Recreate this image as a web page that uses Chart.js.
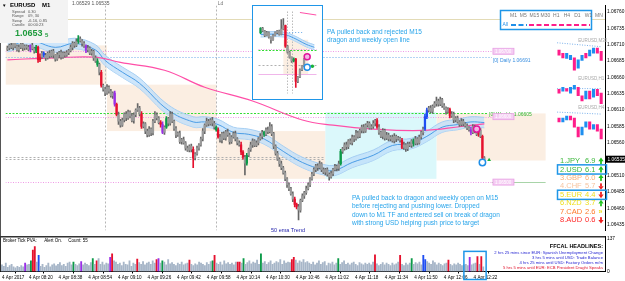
<!DOCTYPE html>
<html>
<head>
<meta charset="utf-8">
<title>EURUSD M1</title>
<script src="https://cdn.jsdelivr.net/npm/chart.js@4.4.1/dist/chart.umd.min.js"></script>
<style>
  html, body { margin: 0; padding: 0; background: #fff; overflow: hidden; }
  #wrap { position: relative; width: 625px; height: 281px; }
  #main { position: absolute; left: 0; top: 0; }
  #vol { position: absolute; left: 0; top: 236px; }
  #insetBox { position: absolute; left: 252px; top: 5px; width: 69px; height: 93px; border: 1.5px solid #1f96e8; background: #fff; }
  #inset { position: absolute; left: 0; top: 0; }
</style>
</head>
<body>
<div id="wrap">
  <canvas id="main" width="625" height="236"></canvas>
  <canvas id="vol" width="625" height="45"></canvas>
  <div id="insetBox"><canvas id="inset" width="69" height="93"></canvas></div>
</div>
<script>
Chart.defaults.font.family = "'Liberation Sans', Arial, sans-serif";

// prices are points above 1.06000 (712 = 1.06712)
const firstOpen = 703;
const closes = [
  705,709,706,712,708,702,706,711,705,708, 706,703,709,704,700,706,687,691,697,694,
  690,697,693,700,694,688,695,698,691,697, 694,698,701,706,712,709,715,719,716,712,
  708,702,705,697,700,690,685,680,668,648, 642,636,645,639,632,636,619,603,593,587,
  595,604,598,607,601,594,603,610,613,604, 585,589,578,572,581,575,593,603,598,591,
  588,576,584,597,590,604,593,582,572,575, 562,565,560,552,549,555,550,537,543,552,
  557,566,578,587,593,589,595,590,584,580, 569,564,574,567,577,572,562,569,574,566,
  560,557,546,538,529,541,550,557,563,556, 560,566,570,576,573,580,577,585,574,555,
  544,535,528,522,514,505,496,490,482,474, 466,462,457,472,479,484,490,496,505,512,
  519,525,522,528,519,515,519,512,508,513, 519,524,521,528,547,551,557,554,563,560,
  569,566,575,570,579,584,578,587,590,583, 585,590,594,584,576,570,579,567,572,566,
  569,563,570,566,567,564,553,557,551,558, 556,563,559,566,560,569,576,581,600,610,
  613,608,616,620,624,619,626,617,613,608, 611,601,604,595,598,592,588,593,589,586,
  583,580,576,585,578,573,579,570,537,535
];
const wickUp = [
  3,2,4,1,3,2,4,2,3,2, 2,3,1,4,2,3,2,5,3,2, 3,2,4,2,3,1,3,2,4,2, 2,3,2,4,3,2,4,5,3,2,
  3,2,4,2,3,2,3,4,2,3, 2,3,4,2,3,2,3,2,4,3, 3,2,4,3,2,4,3,2,7,3, 4,3,2,3,4,2,3,5,3,2,
  3,4,2,3,2,4,3,2,3,2, 3,2,4,2,3,2,3,4,2,3, 2,3,4,2,5,3,2,4,3,2, 3,4,2,3,2,4,3,2,3,4,
  2,3,4,2,3,3,2,4,3,2, 3,2,4,3,2,3,4,6,3,2, 2,3,2,4,2,3,2,3,2,3, 3,2,4,2,3,2,4,3,2,3,
  3,2,3,4,2,3,2,3,2,4, 2,3,2,4,3,2,3,4,2,3, 3,2,4,3,2,3,4,2,3,2, 3,4,2,3,4,2,3,2,4,3,
  2,3,4,2,3,2,3,4,2,3, 3,2,3,4,2,3,2,3,4,3, 3,4,2,3,6,3,4,2,3,2, 3,2,4,3,2,3,2,4,3,2,
  3,2,4,3,2,3,4,3,2,2
];
const wickDn = [
  2,3,2,4,3,2,3,2,4,3, 3,2,4,2,3,2,4,3,2,3, 4,2,3,2,4,3,2,5,3,2, 3,2,3,2,4,3,2,3,2,4,
  2,4,3,2,3,4,2,3,4,3, 3,4,2,3,2,4,3,2,5,3, 2,3,4,2,3,2,4,3,2,3, 3,2,4,3,2,4,3,2,3,2,
  4,2,3,2,4,3,2,3,4,2, 3,4,2,3,2,3,4,15,3,2, 3,2,3,4,2,3,2,4,3,2, 2,3,4,2,3,2,4,3,2,3,
  3,2,4,3,18,3,2,3,4,2, 2,3,2,4,3,2,3,2,3,4, 3,2,4,3,2,3,4,3,2,4, 4,3,15,3,2,4,3,2,3,2,
  2,3,4,2,3,2,4,3,5,2, 3,2,4,3,2,3,2,4,3,2, 3,4,2,3,2,4,3,2,3,2, 2,3,4,2,3,2,4,3,2,3,
  3,2,3,4,2,3,2,3,4,3, 2,3,4,2,3,2,3,4,2,3, 3,2,3,2,4,3,2,3,2,4, 2,3,2,4,3,2,3,2,3,2,
  3,2,4,2,3,2,3,2,4,3
];
const tickVolume = [
  28,22,35,18,25,30,20,15,22,18, 25,20,35,28,30,45,90,105,40,68, 22,30,18,25,35,20,28,32,24,30,
  38,25,30,22,35,40,28,40,30,25, 32,42,28,35,30,25,38,55,30,45, 55,30,40,28,35,32,60,75,45,40,
  30,35,25,40,30,28,45,22,35,30, 52,38,30,42,28,35,40,30,45,35, 50,55,35,45,40,28,50,32,38,30,
  25,35,30,40,28,32,35,48,30,25, 32,28,40,35,30,25,38,30,42,45, 68,35,30,40,28,45,32,38,30,35,
  28,40,40,40,35,55,30,38,45,32, 40,35,48,30,75,35,42,30,38,45, 30,35,42,38,50,30,45,35,40,38,
  50,60,48,35,45,40,50,38,42,35, 30,40,28,35,45,30,38,42,25,35, 32,40,28,35,55,30,38,45,30,35,
  28,35,40,30,25,38,32,28,35,30, 35,28,40,70,32,25,30,38,28,35, 30,25,35,28,32,40,68,30,25,35,
  28,35,55,30,38,32,40,28,68,50, 42,35,30,45,38,28,35,30,25,32, 35,48,30,25,32,28,35,30,25,28,
  30,25,60,28,32,35,63,30,63,20
];
// PVA highlighted candles
const redBars = [16, 17, 49, 57, 70, 80, 97, 110, 122, 123, 150, 151, 193, 206, 231, 246, 248];
const greenBars = [15, 37, 47, 83, 109, 125, 134, 174, 212];
const blueBars = [19, 218, 219];
const purpleBars = [12, 41, 56, 81, 242];

// 200 ema (pink) and 34 ema dragon band
const emaIdx = [0, 25, 46, 59, 82, 103, 128, 154, 170, 191, 217, 237, 249];
const emaVal = [687, 690, 691, 683, 671, 645, 624, 595, 587, 581, 579, 585, 589];
const dragonIdx = [0, 12, 25, 35, 46, 51, 60, 69, 84, 97, 103, 110, 118, 126, 134, 144, 154, 165, 171, 180, 191, 201, 211, 219, 227, 235, 242, 249];
const dragonHi  = [715, 724, 714, 720, 710, 694, 676, 659, 618, 600, 600, 596, 584, 581, 574, 555, 538, 527, 526, 538, 549, 564, 567, 578, 592, 596, 600, 599];
const dragonMid = [707, 716, 706, 712, 702, 686, 668, 651, 610, 592, 592, 588, 576, 573, 566, 547, 530, 519, 518, 530, 541, 556, 559, 570, 584, 588, 592, 591];
const dragonLo  = [699, 708, 698, 704, 694, 678, 660, 643, 602, 584, 584, 580, 568, 565, 558, 539, 522, 511, 510, 522, 533, 548, 551, 562, 576, 580, 584, 583];

// zones and levels
const peachFrom = [-1, 52, 109, 224], peachTo = [52, 109, 166, 281];
const peachTop = [709, 649, 578, 605], peachBottom = [649, 578, 505, 533];
const cyanFrom = 166, cyanTo = 224, cyanTop = 607, cyanBottom = 505;
const dayHigh = 750, dailyOpen = 691, weeklyOpen = 605, roundLevels = [700, 600, 500];
const bid = 535, ask = 538;
const sessionIdx = [51, 109];
const markIdx = [245, 248, 251.5], markVal = [581, 530, 534];
const priceTicks = [435, 460, 485, 510, 535, 560, 585, 610, 635, 660, 685, 710, 735, 760];

const timeLabels = ['4 Apr 2017', '4 Apr 08:20', '4 Apr 08:38', '4 Apr 08:54', '4 Apr 09:10', '4 Apr 09:26',
  '4 Apr 09:42', '4 Apr 09:58', '4 Apr 10:14', '4 Apr 10:30', '4 Apr 10:46', '4 Apr 11:02', '4 Apr 11:18',
  '4 Apr 11:34', '4 Apr 11:50', '4 Apr 12:06', '4 Apr 12:22'];
const timeTickIdx = [0, 14, 29.3, 44.7, 60, 75.3, 90.6, 106, 121.3, 136.6, 152, 167.3, 182.6, 198, 213.3, 228.6, 244];

// mini charts on the right (M30, H1, H4)
const miniIdx = [288, 290, 292, 294, 296, 298, 300, 302, 304, 306, 308, 310];
const miniTitles = ['EURUSD,M30', 'EURUSD,H1', 'EURUSD,H4'];
const miniTitleAt = [716, 658, 613];
const miniOpen = [
  [702, 697, 689, 687, 690, 674, 686, 697, 693, 697, 705, 700],
  [642, 639, 643, 636, 642, 645, 632, 627, 639, 630, 642, 636],
  [598, 592, 595, 601, 598, 584, 572, 584, 592, 581, 588, 581]
];
const miniClose = [
  [694, 690, 697, 694, 671, 687, 694, 690, 702, 705, 697, 686],
  [636, 645, 639, 645, 648, 632, 624, 639, 627, 642, 632, 620],
  [592, 598, 601, 595, 584, 569, 584, 592, 581, 588, 578, 566]
];
const miniTrend = [[713, 707], [643, 643], [607, 604]];

// currency strength meter
const currencies = ['JPY', 'USD', 'GBP', 'CHF', 'EUR', 'NZD', 'CAD', 'AUD'];
const strength = [6.9, 6.1, 6.0, 5.7, 4.4, 3.7, 2.6, 0.6];
const trend = [1, 1, 1, -1, -1, 1, 0, -1];

// M15 screenshot inset
const insetOpen0 = 716;
const insetClose = [733, 723, 705, 716, 698, 688, 705, 716, 723, 709, 730, 744, 663, 639, 618, 604, 611, 523, 541, 569, 583, 611, 625];
const insetUp = [3, 4, 2, 5, 3, 2, 4, 3, 2, 3, 38, 28, 2, 3, 4, 2, 5, 3, 2, 4, 3, 2, 3];
const insetDn = [4, 3, 5, 2, 4, 14, 3, 2, 4, 3, 2, 3, 5, 4, 3, 6, 4, 24, 5, 3, 4, 2, 3];
const insetRed = [12, 17], insetGreen = [0, 16];
const insetBandIdx = [0, 11, 16, 22, 26];
const insetBandHi = [719, 719, 705, 680, 668];
const insetBandMid = [709, 709, 695, 670, 658];
const insetBandLo = [699, 699, 685, 660, 648];
const insetMarkIdx = [22.5, 22.5, 25], insetMarkVal = [621, 579, 583];

const fmt = v => (1.06 + v / 100000).toFixed(5);
const font = (s, w) => (w ? w + ' ' : '') + s + "px 'Liberation Sans', Arial, sans-serif";
const pts = (xs, ys) => xs.map((x, k) => ({ x, y: ys[k] }));
const lineDs = (data, color, width, extra) => Object.assign(
  { type: 'line', data, borderColor: color, borderWidth: width, pointRadius: 0, tension: 0.4, fill: false }, extra);

function pvaColor(i, fallback) {
  if (redBars.includes(i)) return '#e5112e';
  if (greenBars.includes(i)) return '#0b9a48';
  if (blueBars.includes(i)) return '#1f4ef2';
  if (purpleBars.includes(i)) return '#9a2fe6';
  return fallback;
}

const opens = closes.map((c, i) => i ? closes[i - 1] : firstOpen);
const bodies = closes.map((c, i) => ({ x: i, y: [opens[i], c] }));
const wicks = closes.map((c, i) => ({ x: i, y: [Math.min(opens[i], c) - wickDn[i], Math.max(opens[i], c) + wickUp[i]] }));

const miniSets = miniOpen.map((o, g) => ({
  type: 'bar', order: 1, grouped: false, barThickness: 2.4, minBarLength: 1,
  data: miniIdx.map((x, k) => ({ x, y: [o[k], miniClose[g][k]] })),
  backgroundColor: miniIdx.map((x, k) => miniClose[g][k] >= o[k] ? '#1e8ff0' : '#ff1d8a')
}));
const miniTrendSets = miniTrend.map(t => lineDs(pts([287, 310], t), '#5a9ee6', 0.8, { borderDash: [1, 1.5], tension: 0, order: 3 }));

const yAxisFit = w => s => { s.width = w; s.paddingTop = 0; s.paddingBottom = 0; };

const mainDecor = {
  id: 'mainDecor',
  beforeDatasetsDraw(chart) {
    const { ctx, chartArea: a, scales: { x, y } } = chart;
    const X = v => x.getPixelForValue(v), Y = v => y.getPixelForValue(v);
    ctx.save();
    ctx.beginPath(); ctx.rect(a.left, a.top, a.right - a.left, a.bottom - a.top); ctx.clip();
    ctx.fillStyle = '#fbeee2';
    peachFrom.forEach((f, k) => ctx.fillRect(X(f), Y(peachTop[k]), X(peachTo[k]) - X(f), Y(peachBottom[k]) - Y(peachTop[k])));
    ctx.fillStyle = '#dbf8fb';
    ctx.fillRect(X(cyanFrom), Y(cyanTop), X(cyanTo) - X(cyanFrom), Y(cyanBottom) - Y(cyanTop));

    ctx.lineWidth = 1;
    ctx.strokeStyle = '#b5b5b5'; ctx.setLineDash([2, 2]);
    sessionIdx.forEach(i => {
      const px = Math.round(X(i)) + 0.5;
      ctx.beginPath(); ctx.moveTo(px, a.top); ctx.lineTo(px, a.bottom); ctx.stroke();
    });
    const hline = (v, from, to, color, dash) => {
      const py = Math.round(Y(v)) + 0.5;
      ctx.strokeStyle = color; ctx.setLineDash(dash);
      ctx.beginPath(); ctx.moveTo(X(from), py); ctx.lineTo(X(to), py); ctx.stroke();
    };
    hline(dayHigh, -1, 312, '#e3dbb6', []);
    hline(ask, -1, 166, '#b0b0b0', [2, 2]);
    hline(bid, -1, 166, '#b0b0b0', [2, 2]);
    hline(dailyOpen, -1, 253, '#6aaae8', [1, 2]);
    hline(weeklyOpen, -1, 251, '#34dc34', [2, 1.5]);
    roundLevels.forEach(v => hline(v, -1, 253, '#ef9ae6', [1, 1.5]));
    hline(500, 253, 281, '#a8d4a8', []);
    ctx.restore();
  },
  afterDraw(chart) {
    const { ctx, scales: { x, y } } = chart;
    const X = v => x.getPixelForValue(v), Y = v => y.getPixelForValue(v);
    ctx.save();
    ctx.textBaseline = 'middle';

    // level tags
    ctx.font = font(5); ctx.fillStyle = '#3a8fe0';
    ctx.fillText('[0] Daily ' + fmt(dailyOpen), X(253.5), Y(dailyOpen) + 3);
    ctx.fillStyle = '#2fb52f';
    ctx.fillText('[0] Weekly ' + fmt(weeklyOpen), X(251.5), Y(weeklyOpen) + 1);
    roundLevels.forEach(v => {
      const bx = X(253.5), by = Y(v);
      ctx.fillStyle = '#f5cdf3'; ctx.fillRect(bx, by - 3, 21, 6);
      ctx.strokeStyle = '#e7a0e3'; ctx.lineWidth = 0.8; ctx.strokeRect(bx, by - 3, 21, 6);
      ctx.fillStyle = '#ffffff'; ctx.font = font(4.5); ctx.fillText(fmt(v), bx + 2, by + 0.3);
    });

    // notes
    ctx.fillStyle = '#27a4ea'; ctx.font = font(6.5);
    ['PA pulled back and rejected M15', 'dragon and weekly open line']
      .forEach((t, k) => ctx.fillText(t, 327, 32 + k * 8.5));
    ['PA pulled back to dragon and weekly open on M15', 'before rejecting and pushing lower. Dropped',
     'down to M1 TF and entered sell on break of dragon', 'with strong USD helping push price to target']
      .forEach((t, k) => ctx.fillText(t, 352, 198 + k * 8.5));
    ctx.fillStyle = '#1c1ca8'; ctx.font = font(5.5); ctx.fillText('50 ema Trend', 271, 230);
    ctx.fillStyle = '#777'; ctx.font = font(5); ctx.fillText('Ld', X(sessionIdx[1]) + 1.5, 4);
    ctx.fillStyle = '#555'; ctx.fillText('1.06529 1.06535', 72, 4);

    // info panel
    ctx.fillStyle = '#f3f3f3'; ctx.fillRect(0, 0, 68, 43);
    ctx.fillStyle = '#000'; ctx.font = font(4.5); ctx.fillText('\u25BC', 2, 5.5);
    ctx.font = font(6, 'bold'); ctx.fillText('EURUSD', 10, 5.5); ctx.fillText('M1', 42, 5.5);
    ctx.font = font(4); ctx.fillStyle = '#555';
    [['Spread', '0.30'], ['Range', '09, 30'], ['Swap', '-6.16, 0.85'], ['Candle', '00:00:23']]
      .forEach(([k, v], r) => { ctx.fillText(k, 12, 12 + r * 4.3); ctx.fillText(v, 28, 12 + r * 4.3); });
    ctx.fillStyle = '#1e9b3c'; ctx.font = font(9, 'bold'); ctx.fillText('1.0653', 15, 34);
    ctx.font = font(6, 'bold'); ctx.fillText('5', 45, 35);

    // timeframe panel
    ctx.fillStyle = '#fff'; ctx.fillRect(500, 10, 92, 20);
    ctx.strokeStyle = '#1f96e8'; ctx.lineWidth = 1.5; ctx.strokeRect(500.5, 10.5, 91, 19);
    ctx.fillStyle = '#777'; ctx.font = font(5);
    ctx.fillText('M1  M5  M15 M30  H1   H4   D1   W1  MN', 510, 15.5);
    ctx.fillStyle = '#1f8fe8'; ctx.fillText('All', 502.5, 25);
    ctx.lineWidth = 2; ctx.setLineDash([5, 2.5]);
    ctx.strokeStyle = '#1f8fe8'; ctx.beginPath(); ctx.moveTo(511, 25); ctx.lineTo(527, 25); ctx.stroke();
    ctx.strokeStyle = '#ff1d8a'; ctx.beginPath(); ctx.moveTo(529, 25); ctx.lineTo(590, 25); ctx.stroke();
    ctx.setLineDash([]);

    // mini chart titles
    ctx.fillStyle = '#a8a8a8'; ctx.font = font(4.5);
    miniTitles.forEach((t, k) => ctx.fillText(t, X(miniIdx[5]), Y(miniTitleAt[k])));

    // currency strength
    const cCol = ['#3cb83c', '#3cb83c', '#f5b07a', '#f6c4a0', '#eede1c', '#eede1c', '#ff7a2a', '#ff2a2a'];
    currencies.forEach((c, k) => {
      const ty = 161 + k * 8.45;
      ctx.fillStyle = cCol[k]; ctx.font = font(7.5);
      ctx.fillText((k + 1) + '.' + c, 560, ty);
      ctx.fillText(strength[k].toFixed(1), 585, ty);
      const cx = 601;
      if (trend[k] === 0) {
        ctx.fillStyle = '#eede1c'; ctx.font = font(7, 'bold'); ctx.fillText('\u00BB', cx - 2.5, ty);
      } else {
        const d = trend[k];
        ctx.fillStyle = d > 0 ? '#22c422' : '#ee2020';
        ctx.beginPath();
        ctx.moveTo(cx - 2.6, ty + d * 0.2); ctx.lineTo(cx + 2.6, ty + d * 0.2); ctx.lineTo(cx, ty - d * 3.4);
        ctx.closePath(); ctx.fill();
        ctx.fillRect(cx - 0.9, d > 0 ? ty : ty - 3, 1.8, 3);
      }
      if (k === 1 || k === 4) {
        ctx.strokeStyle = '#1f96e8'; ctx.lineWidth = 1.5; ctx.strokeRect(557.5, ty - 4.6, 49, 9.2);
      }
    });

    // current price tag
    const py = Y(bid);
    ctx.fillStyle = '#000'; ctx.fillRect(606, py - 3.5, 19, 7);
    ctx.fillStyle = '#fff'; ctx.font = font(4.8); ctx.fillText(fmt(bid), 607.5, py);

    // left border
    ctx.strokeStyle = '#555'; ctx.lineWidth = 1;
    ctx.beginPath(); ctx.moveTo(0.5, 43); ctx.lineTo(0.5, 236); ctx.stroke();
    ctx.restore();
  }
};

new Chart(document.getElementById('main'), {
  type: 'bar',
  data: {
    datasets: [
      { type: 'bar', data: bodies, backgroundColor: closes.map((c, i) => pvaColor(i, '#9a9a9a')),
        barThickness: 1.6, minBarLength: 1, grouped: false, order: 1 },
      { type: 'bar', data: wicks, backgroundColor: closes.map((c, i) => pvaColor(i, '#666666')),
        barThickness: 1, grouped: false, order: 2 },
      ...miniSets,
      ...miniTrendSets,
      lineDs(pts(emaIdx, emaVal), '#ff4fa8', 1.2, { order: 4 }),
      lineDs(pts(dragonIdx, dragonHi), '#a6cff3', 1, { fill: '+1', backgroundColor: 'rgba(190,222,250,0.75)', order: 6 }),
      lineDs(pts(dragonIdx, dragonLo), '#a6cff3', 1, { order: 6 }),
      lineDs(pts(dragonIdx, dragonMid), '#4b9de6', 1, { order: 5 }),
      { type: 'scatter', data: [{ x: markIdx[0], y: markVal[0] }], pointRadius: 3.2, pointBorderWidth: 1.5,
        pointBorderColor: '#e0159a', pointBackgroundColor: '#f3b5e6', order: -1 },
      { type: 'scatter', data: [{ x: markIdx[1], y: markVal[1] }], pointRadius: 3.2, pointBorderWidth: 1.5,
        pointBorderColor: '#1f8fe8', pointBackgroundColor: '#fff', order: -1 },
      { type: 'scatter', data: [{ x: markIdx[2], y: markVal[2] }], pointStyle: 'triangle', pointRadius: 2.2,
        pointBorderWidth: 0, pointBackgroundColor: '#19b23b', order: -1 }
    ]
  },
  options: {
    responsive: false, animation: false,
    layout: { padding: 0 },
    plugins: { legend: { display: false }, tooltip: { enabled: false } },
    scales: {
      x: { type: 'linear', min: -1, max: 312, offset: false, display: false },
      y: {
        type: 'linear', position: 'right', min: 426, max: 770, beginAtZero: false,
        grid: { display: false, drawTicks: false }, border: { display: true, color: '#000', width: 1 },
        afterBuildTicks: s => { s.ticks = priceTicks.map(v => ({ value: v })); },
        afterFit: yAxisFit(20),
        ticks: { color: '#000', padding: 2, font: { size: 4.8 }, callback: v => v === bid ? '' : fmt(v) }
      }
    }
  },
  plugins: [mainDecor]
});

const headlines = [
  '2 hrs 25 mins since EUR: Spanish Unemployment Change',
  '3 hrs 5 mins until USD: Trade Balance',
  '4 hrs 25 mins until USD: Factory Orders m/m',
  '5 hrs 5 mins until EUR: ECB President Draghi Speaks'
];

const volDecor = {
  id: 'volDecor',
  afterDraw(chart) {
    const { ctx, scales: { x, y } } = chart;
    ctx.save();
    ctx.textBaseline = 'middle';
    ctx.fillStyle = '#000'; ctx.font = font(4.5);
    ctx.fillText('Broker Tick PVA:      Alert On.     Count: 55', 3, 4.5);
    ctx.textAlign = 'right';
    ctx.font = font(5.5, 'bold'); ctx.fillText('FFCAL HEADLINES:', 603, 10);
    headlines.forEach((h, k) => {
      ctx.fillStyle = k === 3 ? '#e0102a' : '#1f1fd0'; ctx.font = font(4.2);
      ctx.fillText(h, 603, 17 + k * 5);
    });
    const bx1 = x.getPixelForValue(239), bx2 = x.getPixelForValue(250.5), by = y.getPixelForValue(85);
    ctx.strokeStyle = '#1f96e8'; ctx.lineWidth = 1.5;
    ctx.strokeRect(bx1, by, bx2 - bx1, chart.height - 1.5 - by);
    ctx.strokeStyle = '#333';
    ctx.beginPath(); ctx.moveTo(0, 0.75); ctx.lineTo(605, 0.75); ctx.stroke();
    ctx.lineWidth = 1;
    ctx.beginPath(); ctx.moveTo(0.5, 0); ctx.lineTo(0.5, chart.chartArea.bottom); ctx.stroke();
    ctx.restore();
  }
};

new Chart(document.getElementById('vol'), {
  type: 'bar',
  data: {
    datasets: [{
      data: tickVolume.map((v, i) => ({ x: i, y: v })),
      backgroundColor: tickVolume.map((v, i) => pvaColor(i, '#a7b6c8')),
      barThickness: 1.2, grouped: false
    }]
  },
  options: {
    responsive: false, animation: false,
    layout: { padding: 0 },
    plugins: { legend: { display: false }, tooltip: { enabled: false } },
    scales: {
      x: {
        type: 'linear', min: -1, max: 312, offset: false,
        afterBuildTicks: s => { s.ticks = timeTickIdx.map(v => ({ value: v })); },
        afterFit: s => { s.paddingLeft = 0; s.paddingRight = 0; },
        ticks: { autoSkip: false, maxRotation: 0, minRotation: 0, align: 'start', padding: 1, color: '#000',
                 font: { size: 4.6 }, callback: (v, k) => timeLabels[k] },
        grid: { drawOnChartArea: false, tickLength: 2, color: '#000' },
        border: { color: '#000' }
      },
      y: {
        type: 'linear', position: 'right', min: 0, max: 150,
        grid: { display: false, drawTicks: false }, border: { display: true, color: '#000' },
        afterBuildTicks: s => { s.ticks = [0, 137].map(v => ({ value: v })); },
        afterFit: yAxisFit(20),
        ticks: { color: '#000', padding: 2, font: { size: 4.8 } }
      }
    }
  },
  plugins: [volDecor]
});

// inset: M15 screenshot
const insetOpens = insetClose.map((c, i) => i ? insetClose[i - 1] : insetOpen0);
const insetCol = (i, fb) => insetRed.includes(i) ? '#e5112e' : insetGreen.includes(i) ? '#0b9a48' : fb;
const insetDecor = {
  id: 'insetDecor',
  beforeDatasetsDraw(chart) {
    const { ctx, chartArea: a, scales: { x, y } } = chart;
    const X = v => x.getPixelForValue(v), Y = v => y.getPixelForValue(v);
    ctx.save();
    ctx.fillStyle = '#fbeee2';
    ctx.fillRect(X(11), Y(688), X(23) - X(11), Y(548) - Y(688));
    ctx.lineWidth = 1;
    ctx.strokeStyle = '#bbb'; ctx.setLineDash([1.5, 1.5]);
    [12.6, 15].forEach(i => { const px = Math.round(X(i)) + 0.5; ctx.beginPath(); ctx.moveTo(px, a.top); ctx.lineTo(px, a.bottom); ctx.stroke(); });
    const hl = (v, f, t, c, d) => { const py = Math.round(Y(v)) + 0.5; ctx.strokeStyle = c; ctx.setLineDash(d); ctx.beginPath(); ctx.moveTo(X(f), py); ctx.lineTo(X(t), py); ctx.stroke(); };
    hl(653, -1, 27, '#ef9ae6', [1, 1.5]);
    hl(646, -1, 27, '#34dc34', [2, 1.5]);
    hl(586, -1, 27, '#b0b0b0', [2, 2]);
    hl(551, -1, 27, '#f0b6ea', []);
    hl(719, 8, 21, '#6aaae8', [1, 2]);
    ctx.restore();
  }
};

new Chart(document.getElementById('inset'), {
  type: 'bar',
  data: {
    datasets: [
      { type: 'bar', data: insetClose.map((c, i) => ({ x: i, y: [insetOpens[i], c] })),
        backgroundColor: insetClose.map((c, i) => insetCol(i, '#9a9a9a')), barThickness: 1.6, minBarLength: 1, grouped: false, order: 1 },
      { type: 'bar', data: insetClose.map((c, i) => ({ x: i, y: [Math.min(insetOpens[i], c) - insetDn[i], Math.max(insetOpens[i], c) + insetUp[i]] })),
        backgroundColor: insetClose.map((c, i) => insetCol(i, '#666666')), barThickness: 1, grouped: false, order: 2 },
      lineDs(pts(insetBandIdx, insetBandHi), '#a6cff3', 1, { fill: '+1', backgroundColor: 'rgba(190,222,250,0.75)', order: 6 }),
      lineDs(pts(insetBandIdx, insetBandLo), '#a6cff3', 1, { order: 6 }),
      lineDs(pts(insetBandIdx, insetBandMid), '#4b9de6', 1, { order: 5 }),
      lineDs(pts([19, 27], [796, 786]), '#ff4fa8', 1, { order: 4, tension: 0 }),
      { type: 'scatter', data: [{ x: insetMarkIdx[0], y: insetMarkVal[0] }], pointRadius: 3, pointBorderWidth: 1.5,
        pointBorderColor: '#e0159a', pointBackgroundColor: '#f3b5e6', order: -1 },
      { type: 'scatter', data: [{ x: insetMarkIdx[1], y: insetMarkVal[1] }], pointRadius: 3, pointBorderWidth: 1.5,
        pointBorderColor: '#1f8fe8', pointBackgroundColor: '#fff', order: -1 },
      { type: 'scatter', data: [{ x: insetMarkIdx[2], y: insetMarkVal[2] }], pointRadius: 1.8, pointBorderWidth: 0,
        pointBackgroundColor: '#19b23b', order: -1 }
    ]
  },
  options: {
    responsive: false, animation: false,
    layout: { padding: 0 },
    plugins: { legend: { display: false }, tooltip: { enabled: false } },
    scales: {
      x: { type: 'linear', min: -1, max: 27, offset: false, display: false },
      y: { type: 'linear', min: 475, max: 800, beginAtZero: false, display: false }
    }
  },
  plugins: [insetDecor]
});
</script>
</body>
</html>
